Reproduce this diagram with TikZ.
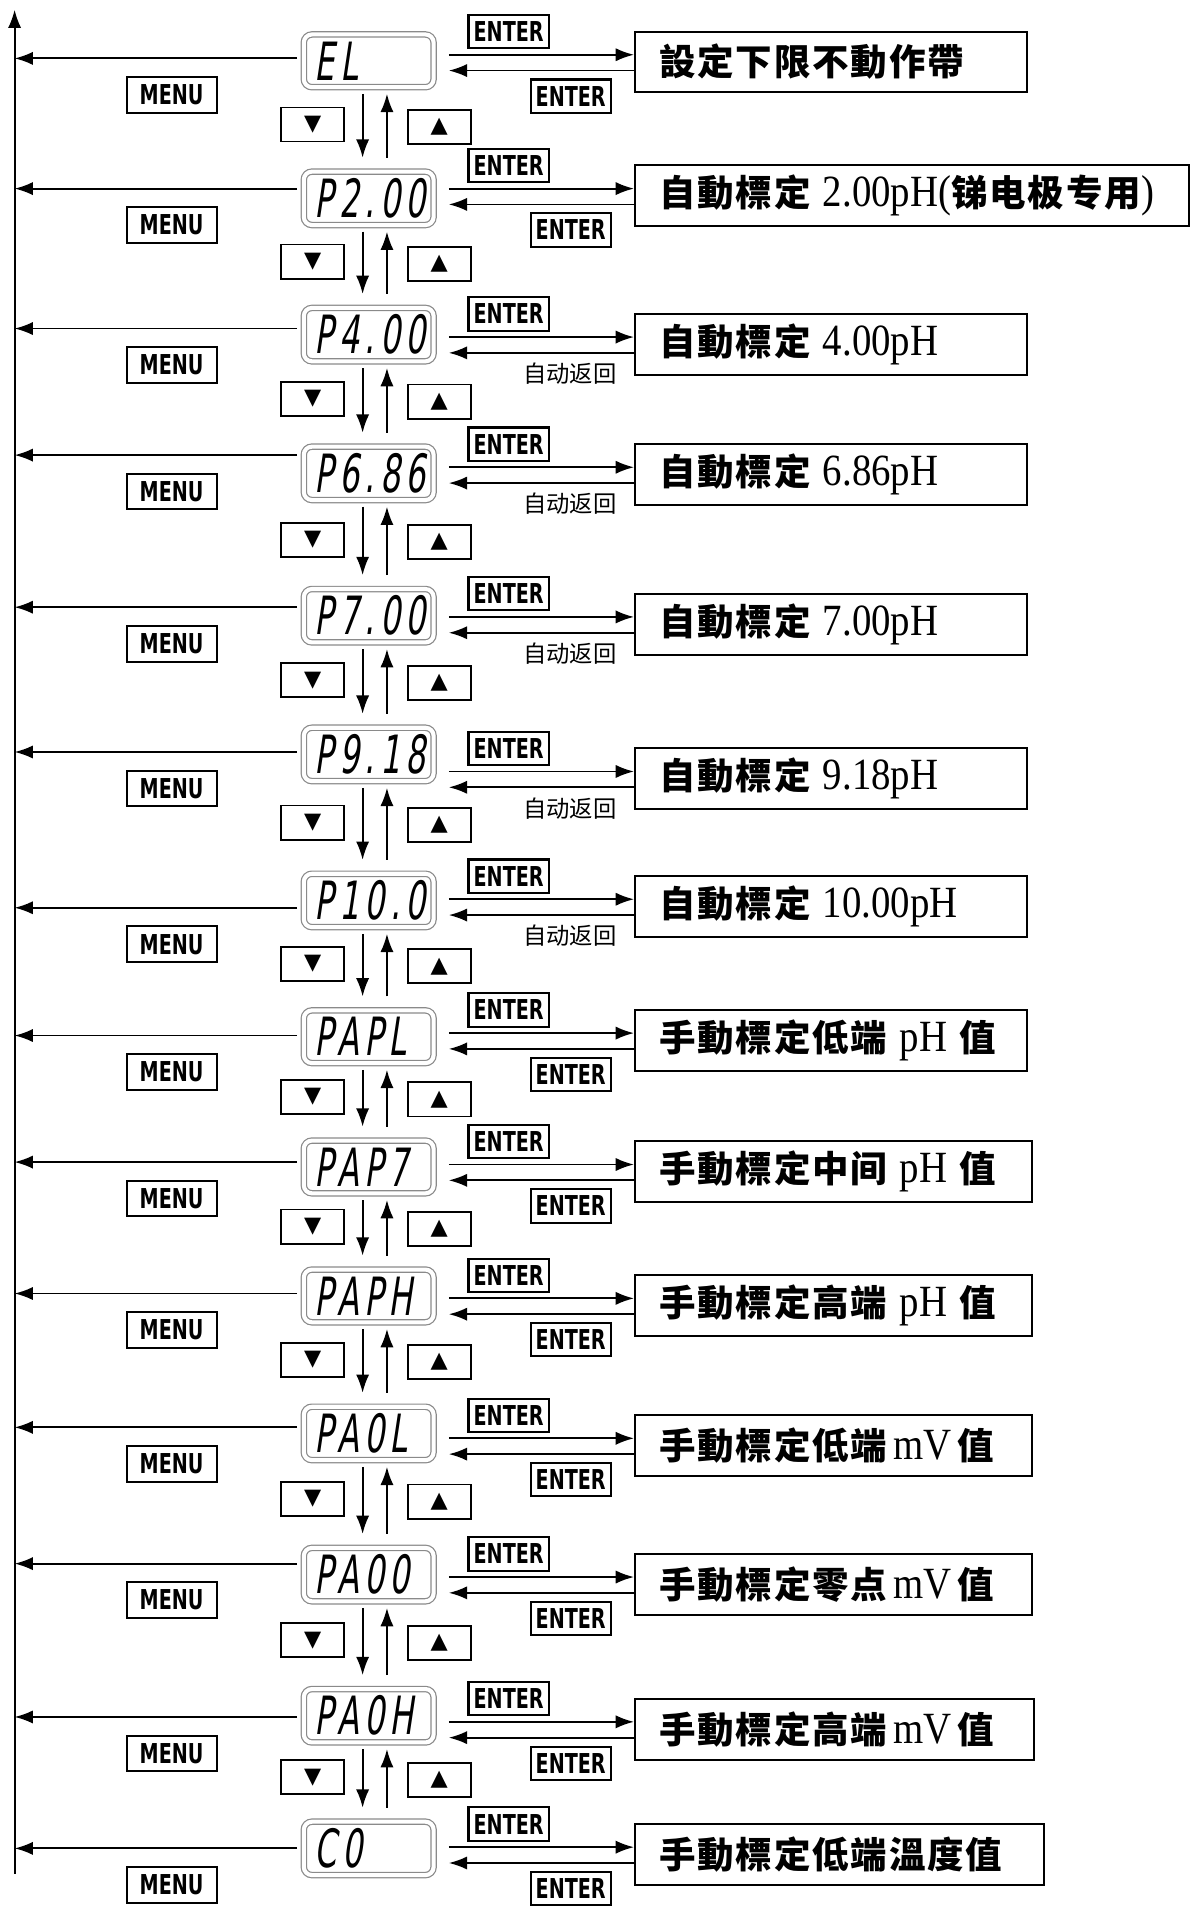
\documentclass[tikz,border=0pt]{standalone}
\usepackage{fontspec}
\usepackage{xcolor}
\usetikzlibrary{positioning, arrows.meta, calc}
\definecolor{lcdgray}{HTML}{8A8A8A}
\newfontfamily\cjkbold{Noto Sans CJK TC}[LetterSpace=5]
\newfontfamily\cjklight{Noto Sans CJK SC}
\newfontfamily\keyfont{DejaVu Sans}[FakeStretch=0.7]
\newfontfamily\trifont{DejaVu Sans}
\newfontfamily\lcdfont{DejaVu Sans}[FakeSlant=0.15,FakeStretch=0.6,LetterSpace=10]
\newfontfamily\romfont{Liberation Serif}[FakeStretch=0.87]
\newcommand\romtxt[1]{{\romfont\mdseries\fontsize{22}{22}\selectfont #1}}

\begin{document}
\begin{tikzpicture}[x=0.6pt, y=-0.6pt,
  arr/.style={-{Latex[length=9pt,width=6.5pt]}, line width=0.9pt},
  lcd/.style={draw=lcdgray, double=white, double distance=2pt, line width=0.6pt,
    rounded corners=4pt, minimum width=64pt, minimum height=26pt, text width=53pt,
    align=left, inner xsep=5pt, font=\lcdfont\fontsize{26}{26}\selectfont},
  txtbox/.style={draw, line width=1pt, minimum height=30pt, inner xsep=12pt,
    align=left, font=\cjkbold\bfseries\fontsize{18}{18}\selectfont},
  keybox/.style={draw, line width=1pt, minimum width=39.6pt, minimum height=16.4pt,
    inner sep=0pt, font=\keyfont\bfseries\fontsize{13.5}{13.5}\selectfont},
  menubox/.style={keybox, minimum width=44.4pt, minimum height=17.6pt},
  dirbox/.style={draw, line width=0.9pt, minimum width=31.2pt, minimum height=16.8pt,
    inner sep=0pt, font=\trifont\fontsize{11}{11}\selectfont},
  autolbl/.style={inner sep=0pt, font=\cjklight\fontsize{11.5}{11.5}\selectfont}]

  \useasboundingbox (0,0) rectangle (985,1568);
  % spine on the left
  \coordinate (spinebot) at (12,1540);
  \coordinate (spinetop) at (12,8);
  \draw[arr] (spinebot) -- (spinetop);

  % one row per display
  \foreach \i/\code/\dy/\my/\by/\br/\back/\txt
    [evaluate=\br as \bw using (\br-521)*0.6-24] in {
    1/EL/50/48/51/843/1/{設定下限不動作帶},
    2/P2.00/163/155/161/976/1/{自動標定 \romtxt{2.00pH(}锑电极专用\romtxt{)}},
    3/P4.00/275/270/283/843/0/{自動標定 \romtxt{4.00pH}},
    4/P6.86/389/374/390/843/0/{自動標定 \romtxt{6.86pH}},
    5/P7.00/506/499/513/843/0/{自動標定 \romtxt{7.00pH}},
    6/P9.18/620/618/640/843/0/{自動標定 \romtxt{9.18pH}},
    7/P10.0/740/746/745/843/0/{自動標定 \romtxt{10.00pH}},
    8/PAPL/852/851/855/843/1/{手動標定低端 \romtxt{pH} 值},
    9/PAP7/959/955/963/847/1/{手動標定中间 \romtxt{pH} 值},
    10/PAPH/1065/1063/1073/847/1/{手動標定高端 \romtxt{pH} 值},
    11/PA0L/1178/1173/1188/847/1/{手動標定低端\,\romtxt{mV}\,值},
    12/PA00/1294/1285/1302/847/1/{手動標定零点\,\romtxt{mV}\,值},
    13/PA0H/1410/1411/1421/849/1/{手動標定高端\,\romtxt{mV}\,值},
    14/C0/1519/1519/1524/857/1/{手動標定低端溫度值}}{
    \node[lcd] (d\i) at (303,\dy) {\code};
    % back to the menu spine
    \coordinate (m\i) at (0,\my);
    \draw[arr] ([xshift=-3pt]d\i.west |- m\i) -- (spinebot |- m\i);
    \node[menubox] (menu\i) at (141,\my+30) {MENU};
    % function box and its two arrows
    \node[txtbox, text width=\bw pt, anchor=west] (t\i) at (521,\by) {\txt};
    \draw[arr] ($(d\i.east |- t\i.west)+(12,-6)$) -- ($(t\i.west)+(0,-6)$);
    \draw[arr] ($(t\i.west)+(0,7)$) -- ($(d\i.east |- t\i.west)+(12,7)$);
    \node[keybox] (et\i) at (418,\by-25) {ENTER};
    \ifnum\back=1
      \node[keybox] (eb\i) at (469,\by+28) {ENTER};
    \else
      \node[autolbl, anchor=north east] (ab\i) at (507,\by+15) {自动返回};
    \fi
  }

  % up and down keys between rows
  \foreach \i [evaluate=\i as \j using int(\i+1)] in {1,...,13}{
    \draw[arr] ([xshift=-3pt,yshift=-3pt]d\i.south) -- ([xshift=-3pt,yshift=6.6pt]d\j.north);
    \draw[arr] ([xshift=9pt,yshift=6.6pt]d\j.north) -- ([xshift=9pt,yshift=-3pt]d\i.south);
    \node[dirbox] (dn\i) at ($(d\i.south)!0.5!(d\j.north)+(-46,-4)$) {▼};
    \node[dirbox] (up\i) at ($(d\i.south)!0.5!(d\j.north)+(58,-2)$) {▲};
  }
\end{tikzpicture}
\end{document}
